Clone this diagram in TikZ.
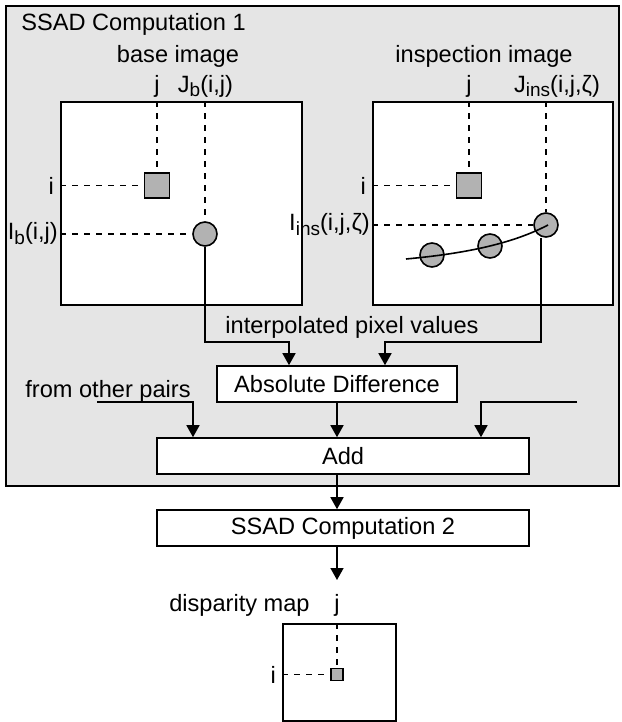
\documentclass[tikz,border=0pt]{standalone}
\usepackage{fontspec}
\setmainfont{Liberation Sans}
\usetikzlibrary{arrows.meta}

\newcommand\lowidx[1]{\raisebox{-0.4ex}{\fontsize{9.5pt}{10pt}\selectfont #1}}

\tikzset{
  frame/.style={draw, fill=white, line width=0.8pt, inner sep=0pt},
  stage/.style={draw, fill=white, line width=0.8pt, minimum height=18pt, inner sep=0pt},
  pixsq/.style={draw, fill=gray!60, line width=0.8pt, minimum size=12.5pt, inner sep=0pt},
  pixdot/.style={draw, circle, fill=gray!60, line width=0.8pt, minimum size=12pt, inner sep=0pt},
  guide/.style={dash pattern=on 3pt off 3pt, line width=0.7pt},
  flow/.style={line width=0.8pt, -{Triangle[length=6pt,width=6.5pt]}},
  lab/.style={inner sep=1pt}
}

\begin{document}
\begin{tikzpicture}[x=0.5pt,y=-0.5pt,font=\fontsize{11.8pt}{14pt}\selectfont]
\useasboundingbox (0,0) rectangle (621,722);
\draw[line width=0.8pt, fill=black!10] (6,6) rectangle (619,486);
\node[lab, anchor=base west] (title) at (19,31) {SSAD Computation 1};

\node[lab, anchor=base] (bname) at (178,63) {base image};
\node[frame, minimum width=120.5pt, minimum height=101.5pt] (bimg) at (181.5,203.5) {};
\node[pixsq] (bsq) at (157,185.5) {};
\node[pixdot] (bc) at (205,234) {};
\node[lab, anchor=base] (bj) at (157,92) {j};
\node[lab, anchor=base] (bJ) at (205.5,92) {J\lowidx{b}(i,j)};
\node[lab, anchor=east, xshift=-2pt] (bi) at (bimg.west |- bsq) {i};
\node[lab, anchor=east] (bI) at (bimg.west |- bc) {I\lowidx{b}(i,j)};
\draw[guide] (bsq.north |- bimg.north) -- (bsq.north);
\draw[guide] (bimg.west |- bsq) -- (bsq.west);
\draw[guide] (bc.north |- bimg.north) -- (bc.north);
\draw[guide] (bimg.west |- bc) -- (bc.west);

\node[lab, anchor=base] (iname) at (484,63) {inspection image};
\node[frame, minimum width=120pt, minimum height=101.5pt] (iimg) at (493,203.5) {};
\node[pixsq] (isq) at (469,185.5) {};
\node[pixdot] (ic1) at (432,255) {};
\node[pixdot] (ic2) at (490,246) {};
\node[pixdot] (ic) at (546,225) {};
\draw[line width=0.8pt] (406,259) .. controls (460,254) and (510,245) .. (548,225);
\node[lab, anchor=base] (ij) at (469,92) {j};
\node[lab, anchor=base] (iJ) at (557,92) {J\lowidx{ins}(i,j,ζ)};
\node[lab, anchor=east, xshift=-2pt] (ii) at (iimg.west |- isq) {i};
\node[lab, anchor=east] (iI) at (iimg.west |- ic) {I\lowidx{ins}(i,j,ζ)};
\draw[guide] (isq.north |- iimg.north) -- (isq.north);
\draw[guide] (iimg.west |- isq) -- (isq.west);
\draw[guide] (ic.north |- iimg.north) -- (ic.north);
\draw[guide] (iimg.west |- ic) -- (ic.west);

\coordinate (rail) at (0,342);
\node[lab, anchor=base] (ivals) at (352,333) {interpolated pixel values};
\node[stage, minimum width=120pt] (diff) at (337,384) {Absolute Difference};
\node[stage, minimum width=186pt] (add) at (343,456) {Add};
\node[stage, minimum width=186pt] (ssad2) at (343,528) {SSAD Computation 2};
\draw[flow] (bc.south) -- (bc.south |- rail) -| ([xshift=-24pt]diff.north);
\draw[flow] ([xshift=-2.5pt]ic.south) -- ([xshift=-2.5pt]ic.south |- rail) -| ([xshift=24pt]diff.north);

\node[lab, anchor=base east] (others) at (193,397) {from other pairs};
\coordinate (lfree) at (97,402);
\coordinate (rfree) at (577,402);
\draw[flow] (lfree) -| ([xshift=-75pt]add.north);
\draw[flow] (diff.south) -- (diff.south |- add.north);
\draw[flow] (rfree) -| ([xshift=69pt]add.north);
\draw[flow] (add.south -| diff.south) -- (ssad2.north -| diff.south);
\coordinate (dtip) at (337,580);
\draw[flow] (ssad2.south -| diff.south) -- (dtip);

\node[lab, anchor=base east] (dname) at (312,611) {disparity map};
\node[frame, minimum width=56.5pt, minimum height=48.5pt] (dimg) at (339.5,672.5) {};
\node[pixsq, minimum size=6pt] (dsq) at (337,674.5) {};
\node[lab, anchor=base] (dj) at (337,611) {j};
\node[lab, anchor=east, xshift=-2pt] (di) at (dimg.west |- dsq) {i};
\draw[guide] (dsq.north |- dimg.north) -- (dsq.north);
\draw[guide] (dimg.west |- dsq) -- (dsq.west);
\end{tikzpicture}
\end{document}
